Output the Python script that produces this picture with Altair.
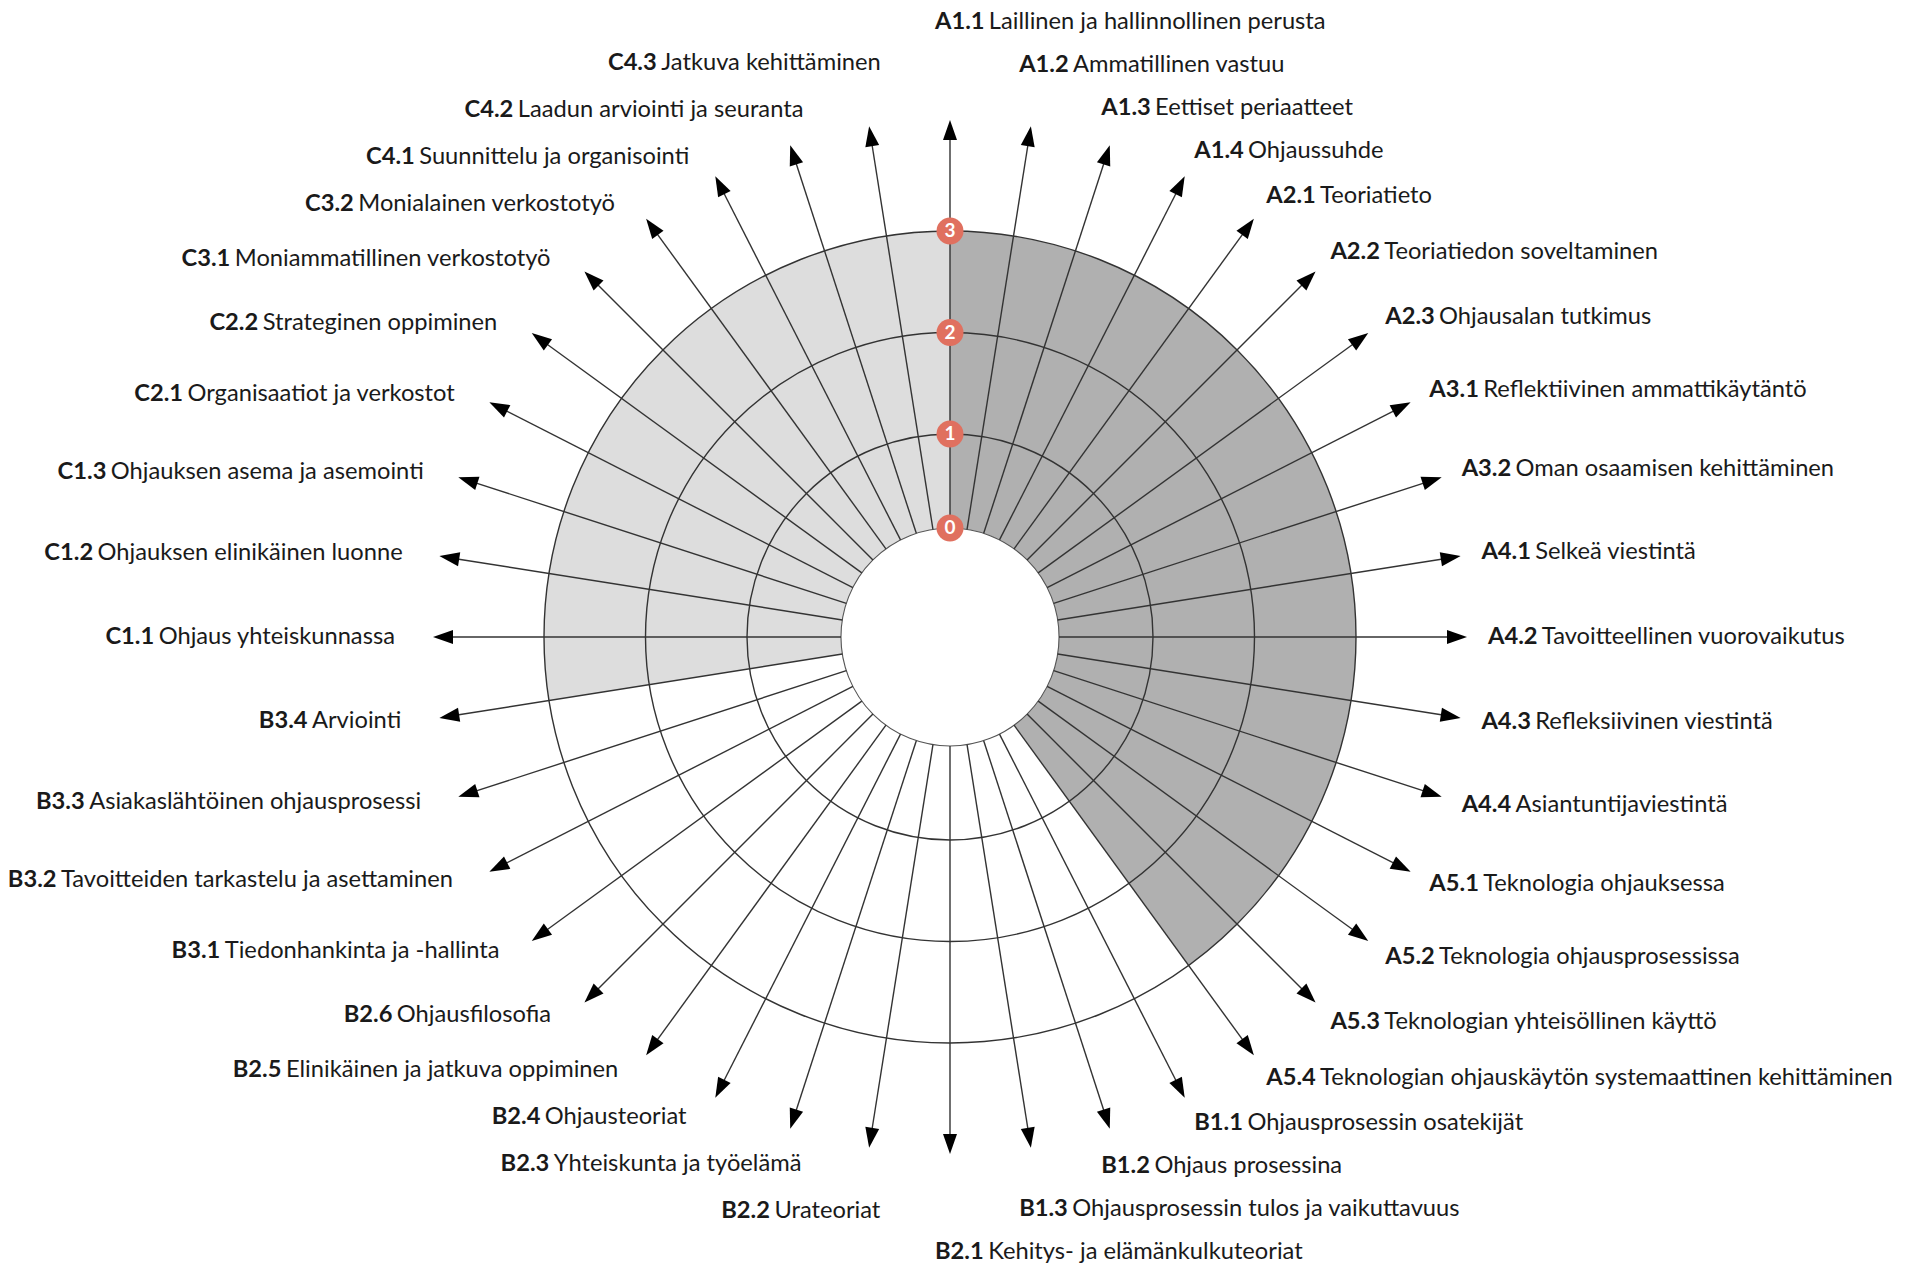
import math
import altair as alt
import pandas as pd

# ---------------- data ----------------
codes = ["A1.1", "A1.2", "A1.3", "A1.4", "A2.1", "A2.2", "A2.3", "A3.1", "A3.2",
         "A4.1", "A4.2", "A4.3", "A4.4", "A5.1", "A5.2", "A5.3", "A5.4",
         "B1.1", "B1.2", "B1.3", "B2.1", "B2.2", "B2.3", "B2.4", "B2.5", "B2.6",
         "B3.1", "B3.2", "B3.3", "B3.4",
         "C1.1", "C1.2", "C1.3", "C2.1", "C2.2", "C3.1", "C3.2", "C4.1", "C4.2", "C4.3"]

names = ["Laillinen ja hallinnollinen perusta", "Ammatillinen vastuu", "Eettiset periaatteet",
         "Ohjaussuhde", "Teoriatieto", "Teoriatiedon soveltaminen", "Ohjausalan tutkimus",
         "Reflektiivinen ammattikäytäntö", "Oman osaamisen kehittäminen", "Selkeä viestintä",
         "Tavoitteellinen vuorovaikutus", "Refleksiivinen viestintä", "Asiantuntijaviestintä",
         "Teknologia ohjauksessa", "Teknologia ohjausprosessissa",
         "Teknologian yhteisöllinen käyttö",
         "Teknologian ohjauskäytön systemaattinen kehittäminen",
         "Ohjausprosessin osatekijät", "Ohjaus prosessina",
         "Ohjausprosessin tulos ja vaikuttavuus", "Kehitys- ja elämänkulkuteoriat",
         "Urateoriat", "Yhteiskunta ja työelämä", "Ohjausteoriat",
         "Elinikäinen ja jatkuva oppiminen", "Ohjausfilosofia", "Tiedonhankinta ja -hallinta",
         "Tavoitteiden tarkastelu ja asettaminen", "Asiakaslähtöinen ohjausprosessi", "Arviointi",
         "Ohjaus yhteiskunnassa", "Ohjauksen elinikäinen luonne", "Ohjauksen asema ja asemointi",
         "Organisaatiot ja verkostot", "Strateginen oppiminen", "Moniammatillinen verkostotyö",
         "Monialainen verkostotyö", "Suunnittelu ja organisointi", "Laadun arviointi ja seuranta",
         "Jatkuva kehittäminen"]

# filled level of the sector that starts at each spoke (clockwise to the next spoke)
sector_level = [3, 3, 3, 3, 3, 3, 3, 3, 3, 3, 3, 3, 3, 3, 3, 3, 0,
                0, 0, 0, 0, 0, 0, 0, 0, 0, 0, 0, 0, 3,
                3, 3, 3, 3, 3, 3, 3, 3, 3, 3]
sector_tone = ["dark", "dark", "dark", "dark", "dark", "dark", "dark", "dark",
               "dark", "dark", "dark", "dark", "dark", "dark", "dark", "dark", "none",
               "none", "none", "none", "none", "none", "none", "none", "none", "none",
               "none", "none", "none", "light",
               "light", "light", "light", "light", "light", "light", "light",
               "light", "light", "light"]

ring_levels = [1, 2, 3]
badge_levels = [0, 1, 2, 3]

# ---------------- geometry / style ----------------
N = len(codes)
STEP = 360.0 / N
R_HOLE = 109.0
R_BASE = 101.5
R_UNIT = 101.5
R_TIP = 517.0
HEAD = 20.0
LAB_R_RIGHT_X = 538.0
LAB_R_RIGHT_Y = 545.0
LAB_R_LEFT = 535.0
LAB_PAD_LEFT = 20.0
GAP_RIGHT = 43.0
GAP_LEFT = 47.0
SLIDE_RIGHT = 15.0
SLIDE_LEFT = 35.0
SLIDE_MIN_PUSH = 6.0
FS = 23.7
FONT = "Lato"
TXT = "#1a1a1a"
LINE = "#333333"
BADGE = "#E0705F"


def rad(level):
    return R_BASE + R_UNIT * level


def polar(r, deg):
    a = math.radians(deg)
    return r * math.sin(a), -r * math.cos(a)


angles = [i * STEP for i in range(N)]

# approximate Lato advance widths (em)
REG = {'a': .484, 'b': .546, 'c': .452, 'd': .546, 'e': .512, 'f': .316, 'g': .495, 'h': .546,
       'i': .232, 'j': .232, 'k': .491, 'l': .232, 'm': .824, 'n': .546, 'o': .546, 'p': .546,
       'q': .546, 'r': .366, 's': .416, 't': .332, 'u': .546, 'v': .496, 'w': .746, 'x': .478,
       'y': .496, 'z': .448, 'ä': .484, 'ö': .546, 'A': .690, 'B': .640, 'C': .668, 'D': .746,
       'E': .560, 'F': .546, 'G': .726, 'H': .756, 'I': .282, 'J': .400, 'K': .650, 'L': .492,
       'M': .906, 'N': .756, 'O': .800, 'P': .600, 'R': .626, 'S': .526, 'T': .590, 'U': .726,
       'V': .690, 'Y': .626, ' ': .193, '-': .336, '.': .2}
BOLD = {'A': .70, 'B': .67, 'C': .675, '.': .22}
FUDGE = 1.03


def w_reg(s):
    return sum(REG.get(ch, .55) for ch in s) * FS * FUDGE


def w_code(s):
    return sum(BOLD.get(ch, .58) for ch in s) * FS + REG[' '] * FS


# label anchors, then an outward sweep that keeps a minimum vertical gap
y0 = []
for a in angles:
    ry = LAB_R_RIGHT_Y if a <= 180 else LAB_R_LEFT
    y0.append(-ry * math.cos(math.radians(a)))
ylab = list(y0)
right = [i for i, a in enumerate(angles) if a <= 180]
left = [i for i, a in enumerate(angles) if a > 180]
for side, gap in ((right, GAP_RIGHT), (left, GAP_LEFT)):
    order = sorted(side, key=lambda i: y0[i])
    k = min(range(len(order)), key=lambda j: abs(y0[order[j]]))
    for j in range(k - 1, -1, -1):
        ylab[order[j]] = min(y0[order[j]], ylab[order[j + 1]] - gap)
    for j in range(k + 1, len(order)):
        ylab[order[j]] = max(y0[order[j]], ylab[order[j - 1]] + gap)

lab_rows = []
for i, a in enumerate(angles):
    cw = w_code(codes[i])
    s = math.sin(math.radians(a))
    moved = abs(ylab[i] - y0[i]) > SLIDE_MIN_PUSH
    if a <= 180:
        xs0 = LAB_R_RIGHT_X * s - (SLIDE_RIGHT if moved else 0.0)
    else:
        xend = LAB_R_LEFT * s - LAB_PAD_LEFT + (SLIDE_LEFT if moved else 0.0)
        xs0 = xend - cw - w_reg(names[i])
    lab_rows.append({"code": codes[i], "name": names[i], "x": xs0, "xn": xs0 + cw, "y": ylab[i]})
labels = pd.DataFrame(lab_rows)

spokes = pd.DataFrame([{
    "code": codes[i],
    "x": polar(R_HOLE, a)[0], "y": polar(R_HOLE, a)[1],
    "x2": polar(R_TIP - HEAD / 2, a)[0], "y2": polar(R_TIP - HEAD / 2, a)[1],
} for i, a in enumerate(angles)])

heads = pd.DataFrame([{
    "code": codes[i],
    "x": polar(R_TIP - HEAD / 2, a)[0], "y": polar(R_TIP - HEAD / 2, a)[1], "ang": a,
} for i, a in enumerate(angles)])

sectors = pd.DataFrame([{
    "code": codes[i], "tone": sector_tone[i], "level": sector_level[i],
    "cx": 0.0, "cy": 0.0,
    "t0": math.radians(a), "t1": math.radians(a + STEP),
    "r0": R_HOLE, "r1": rad(sector_level[i]),
} for i, a in enumerate(angles) if sector_level[i] > 0])

rings = pd.DataFrame({"level": ring_levels,
                      "r": [rad(v) for v in ring_levels],
                      "cx": 0.0, "cy": 0.0, "t0": 0.0, "t1": 2 * math.pi})
hole = pd.DataFrame({"r": [R_HOLE], "cx": [0.0], "cy": [0.0], "t0": [0.0], "t1": [2 * math.pi]})

badges = pd.DataFrame({"level": badge_levels,
                       "txt": [str(v) for v in badge_levels],
                       "x": 0.0,
                       "y": [-max(rad(v), R_HOLE) for v in badge_levels]})

# ---------------- chart ----------------
W, H = 1900, 1256
CX, CY = 942, 629
xsc = alt.Scale(domain=[-CX, W - CX], nice=False, zero=False)
ysc = alt.Scale(domain=[-CY, H - CY], nice=False, zero=False, reverse=True)


def X(f):
    return alt.X(f, type="quantitative", scale=xsc, axis=None)


def Y(f):
    return alt.Y(f, type="quantitative", scale=ysc, axis=None)


wedge_layer = alt.Chart(sectors).mark_arc(strokeWidth=0).encode(
    x=X("cx"), y=Y("cy"),
    theta=alt.Theta("t0:Q", scale=None), theta2=alt.Theta2("t1:Q"),
    radius=alt.Radius("r1:Q", scale=None), radius2=alt.Radius2("r0:Q"),
    color=alt.Color("tone:N", scale=alt.Scale(domain=["dark", "light"],
                                              range=["#B0B0B0", "#DDDDDD"]), legend=None),
)

ring_layer = alt.Chart(rings).mark_arc(filled=False, stroke=LINE, strokeWidth=1.4).encode(
    x=X("cx"), y=Y("cy"),
    theta=alt.Theta("t0:Q", scale=None), theta2=alt.Theta2("t1:Q"),
    radius=alt.Radius("r:Q", scale=None),
)

hole_layer = alt.Chart(hole).mark_arc(filled=False, stroke="#555555", strokeWidth=1.1).encode(
    x=X("cx"), y=Y("cy"),
    theta=alt.Theta("t0:Q", scale=None), theta2=alt.Theta2("t1:Q"),
    radius=alt.Radius("r:Q", scale=None),
)

spoke_layer = alt.Chart(spokes).mark_rule(color=LINE, strokeWidth=1.4).encode(
    x=X("x"), y=Y("y"), x2=alt.X2("x2"), y2=alt.Y2("y2"),
)

head_layer = alt.Chart(heads).mark_point(
    shape="M0,-1L0.7,1L-0.7,1Z", filled=True, color="#000000", opacity=1,
    size=HEAD * HEAD, strokeWidth=0,
).encode(x=X("x"), y=Y("y"), angle=alt.Angle("ang:Q", scale=None))

badge_layer = alt.Chart(badges).mark_point(
    shape="circle", filled=True, color=BADGE, opacity=1, size=27 * 27, strokeWidth=0,
).encode(x=X("x"), y=Y("y"))

badge_text = alt.Chart(badges).mark_text(
    font=FONT, fontSize=19, fontWeight="bold", color="white", align="center", baseline="middle",
).encode(x=X("x"), y=Y("y"), text="txt:N")

code_text = alt.Chart(labels).mark_text(
    font=FONT, fontSize=FS, fontWeight="bold", color=TXT, align="left", baseline="middle",
).encode(x=X("x"), y=Y("y"), text="code:N")

name_text = alt.Chart(labels).mark_text(
    font=FONT, fontSize=FS, fontWeight="normal", color=TXT, align="left", baseline="middle",
).encode(x=X("xn"), y=Y("y"), text="name:N")

chart = alt.layer(
    wedge_layer, ring_layer, hole_layer, spoke_layer, head_layer,
    badge_layer, badge_text, code_text, name_text,
).properties(
    width=W, height=H, padding=0,
    autosize=alt.AutoSizeParams(type="none"),
    background="white",
).configure_view(strokeWidth=0)

chart.save("out.html", embed_options={"renderer": "svg", "actions": False})
